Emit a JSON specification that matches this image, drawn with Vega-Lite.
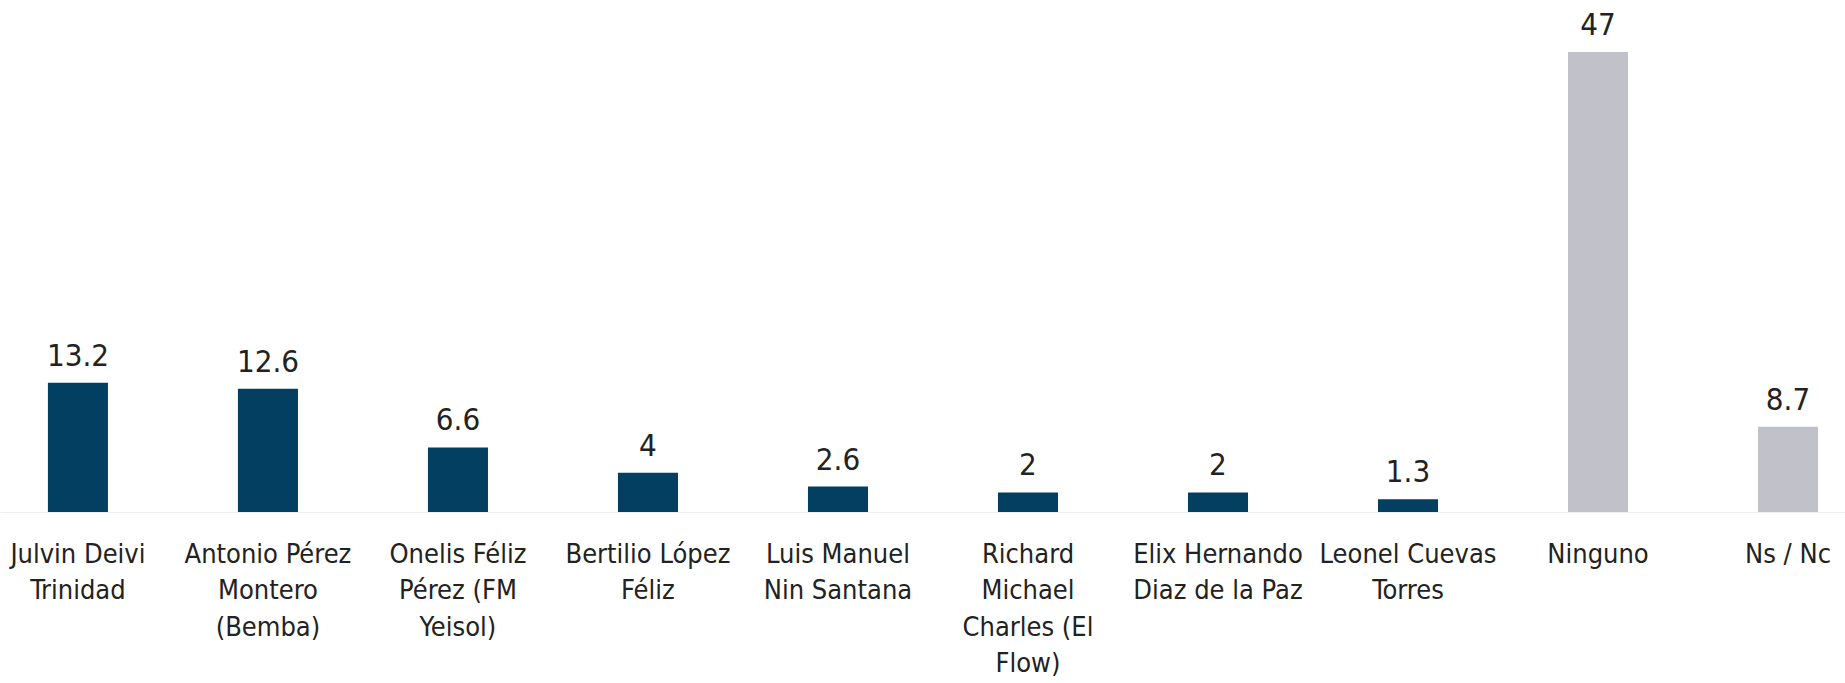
{
  "$schema": "https://vega.github.io/schema/vega-lite/v6.json",
  "width": 1845,
  "height": 512,
  "autosize": {"type": "none"},
  "padding": {"left": 0, "top": 0, "right": 0, "bottom": 171},
  "background": "white",
  "data": {
    "values": [
      {"name": "Julvin Deivi|Trinidad", "value": 13.2, "group": "c"},
      {"name": "Antonio Pérez|Montero|(Bemba)", "value": 12.6, "group": "c"},
      {"name": "Onelis Féliz|Pérez (FM|Yeisol)", "value": 6.6, "group": "c"},
      {"name": "Bertilio López|Féliz", "value": 4, "group": "c"},
      {"name": "Luis Manuel|Nin Santana", "value": 2.6, "group": "c"},
      {"name": "Richard|Michael|Charles (El|Flow)", "value": 2, "group": "c"},
      {"name": "Elix Hernando|Diaz de la Paz", "value": 2, "group": "c"},
      {"name": "Leonel Cuevas|Torres", "value": 1.3, "group": "c"},
      {"name": "Ninguno", "value": 47, "group": "o"},
      {"name": "Ns / Nc", "value": 8.7, "group": "o"}
    ]
  },
  "encoding": {
    "x": {
      "field": "name",
      "type": "nominal",
      "sort": null,
      "scale": {"paddingInner": 0.684, "paddingOuter": 0.197, "align": 0.64},
      "axis": {
        "title": null,
        "labelAngle": 0,
        "ticks": false,
        "domain": true,
        "domainColor": "#eeeeee",
        "labelExpr": "split(datum.label, '|')",
        "labelFont": "DejaVu Sans Condensed, Roboto, sans-serif",
        "labelFontSize": 27,
        "labelColor": "#222222",
        "labelLineHeight": 36.5,
        "labelPadding": 29,
        "labelLimit": 0,
        "labelBaseline": "top"
      }
    },
    "y": {
      "field": "value",
      "type": "quantitative",
      "scale": {"domain": [0, 52.31]},
      "axis": null
    }
  },
  "layer": [
    {
      "mark": {"type": "bar"},
      "encoding": {
        "color": {
          "field": "group",
          "type": "nominal",
          "scale": {"domain": ["c", "o"], "range": ["#033f60", "#c0c1c9"]},
          "legend": null
        }
      }
    },
    {
      "mark": {"type": "text", "baseline": "alphabetic", "dy": -17, "font": "DejaVu Sans Condensed, Roboto, sans-serif", "fontSize": 31, "color": "#222222"},
      "encoding": {"text": {"field": "value", "type": "quantitative"}}
    }
  ],
  "config": {"view": {"stroke": null}, "axis": {"grid": false}}
}
